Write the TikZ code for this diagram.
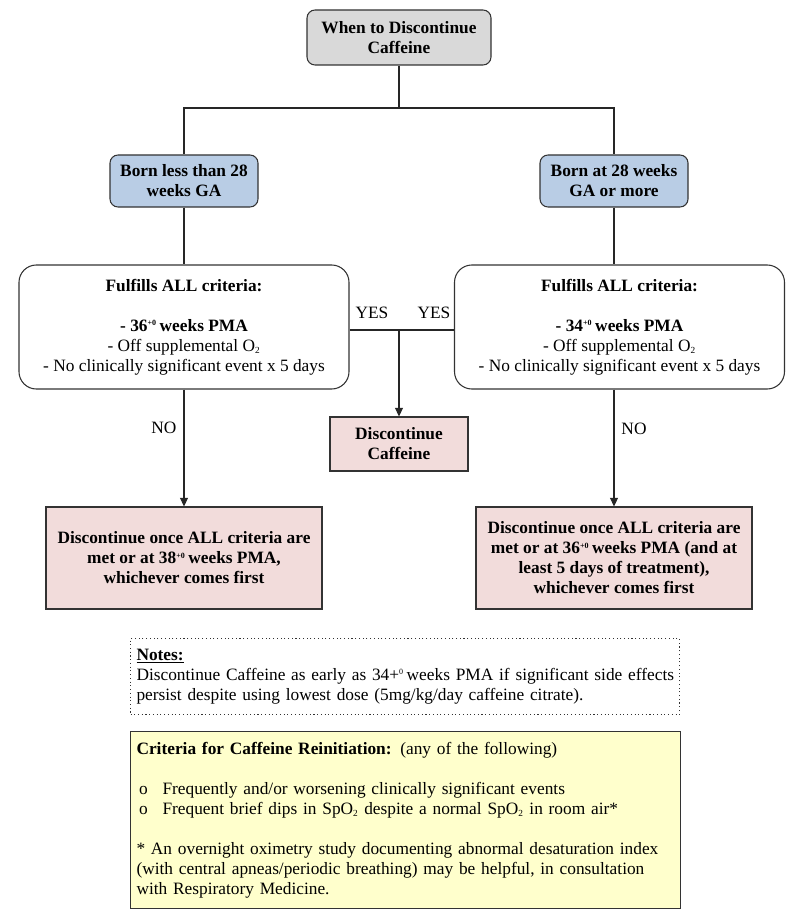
\documentclass[tikz,border=0pt]{standalone}
\usepackage{fontspec}
\setmainfont{Liberation Serif}
\usetikzlibrary{arrows.meta}

\definecolor{boxgray}{HTML}{D9D9D9}
\definecolor{boxblue}{HTML}{B9CDE5}
\definecolor{boxpink}{HTML}{F2DCDB}
\definecolor{boxyellow}{HTML}{FFFFCC}

\newcommand\tinysup[1]{\textsuperscript{\fontsize{6}{6}\selectfont #1}}
\newcommand\tinysub[1]{\textsubscript{\fontsize{7}{7}\selectfont #1}}

\tikzset{
  box/.style={draw=black!80, line width=0.8pt, align=center, font=\bfseries, inner sep=0pt},
  titlebox/.style={box, fill=boxgray, rounded corners=6pt, minimum width=138pt, minimum height=41.25pt},
  agebox/.style={box, fill=boxblue, rounded corners=6pt, minimum width=111pt, minimum height=39pt},
  critbox/.style={box, font=\normalfont, rounded corners=13pt, minimum width=247.5pt, minimum height=93pt},
  stopbox/.style={box, fill=boxpink},
  notebox/.style={draw=black!80, line width=0.8pt, align=left, anchor=north west, inner xsep=4.5pt, inner ysep=0pt},
  link/.style={line width=0.8pt, draw=black!85},
  arr/.style={link, -{Triangle[width=6pt,length=6.5pt]}},
}

\begin{document}
\fontsize{13}{15}\selectfont
\begin{tikzpicture}[x=0.75pt, y=-0.75pt]
\useasboundingbox (0,0) rectangle (805,920);

% Title and age groups
\node[titlebox] (title) at (399,37.5) {When to Discontinue\\Caffeine};
\node[agebox] (ageL) at (184,181) {Born less than 28\\weeks GA};
\node[agebox] (ageR) at (614,181) {Born at 28 weeks\\GA or more};

% Criteria boxes
\node[critbox] (critL) at (184,327) {\textbf{Fulfills ALL criteria:}\\[15pt]
  \textbf{- 36\tinysup{+0}\,weeks PMA}\\
  - Off supplemental O\tinysub{2}\\
  - No clinically significant event x 5 days};
\node[critbox] (critR) at (619.5,327) {\textbf{Fulfills ALL criteria:}\\[15pt]
  \textbf{- 34\tinysup{+0}\,weeks PMA}\\
  - Off supplemental O\tinysub{2}\\
  - No clinically significant event x 5 days};

% Outcomes
\node[stopbox, minimum width=103.5pt, minimum height=40.5pt] (stop) at (399,444) {Discontinue\\Caffeine};
\node[stopbox, minimum width=207pt, minimum height=76.5pt] (waitL) at (184,558)
  {Discontinue once ALL criteria are\\met or at 38\tinysup{+0}\,weeks PMA,\\whichever comes first};
\node[stopbox, minimum width=207pt, minimum height=76.5pt] (waitR) at (614,558)
  {Discontinue once ALL criteria are\\met or at 36\tinysup{+0}\,weeks PMA (and at\\least 5 days of treatment),\\whichever comes first};

% Connectors
\coordinate (split) at (399,108);
\coordinate (yes) at (399,330);
\draw[link] (title) -- (split);
\draw[link] (ageL.north) |- (split) -| (ageR.north);
\draw[link] (ageL) -- (critL);
\draw[link] (ageR.south) -- (ageR.south |- critR.north);
\draw[link] (critL.east |- yes) -- (critR.west |- yes);
\draw[arr] (yes) -- (stop.north);
\draw[arr] (critL) -- (waitL);
\draw[arr] (waitR.north |- critR.south) -- (waitR.north);

% Branch labels
\node (yesL) at (372,313) {YES};
\node (yesR) at (434,313) {YES};
\node (noL) at (164,428) {NO};
\node (noR) at (634,429) {NO};

% Notes
\node[notebox, dotted, text width=402.75pt, minimum height=57pt] (notes) at (130,638)
  {\textbf{\underline{Notes:}}\\
  \mbox{Discontinue Caffeine as early as 34+\tinysup{0}\,weeks PMA if significant side effects}\\
  persist despite using lowest dose (5mg/kg/day caffeine citrate).};

% Reinitiation criteria
\node[notebox, fill=boxyellow, text width=403.5pt, minimum height=132.75pt] (restart) at (130,731)
  {\textbf{Criteria for Caffeine Reinitiation:} (any of the following)\\[15pt]
  \hspace*{2pt}\makebox[17.5pt][l]{o}Frequently and/or worsening clinically significant events\\
  \hspace*{2pt}\makebox[17.5pt][l]{o}Frequent brief dips in SpO\tinysub{2} despite a normal SpO\tinysub{2} in room air*\\[15pt]
  * An overnight oximetry study documenting abnormal desaturation index\\
  (with central apneas/periodic breathing) may be helpful, in consultation\\
  with Respiratory Medicine.};

\end{tikzpicture}
\end{document}
